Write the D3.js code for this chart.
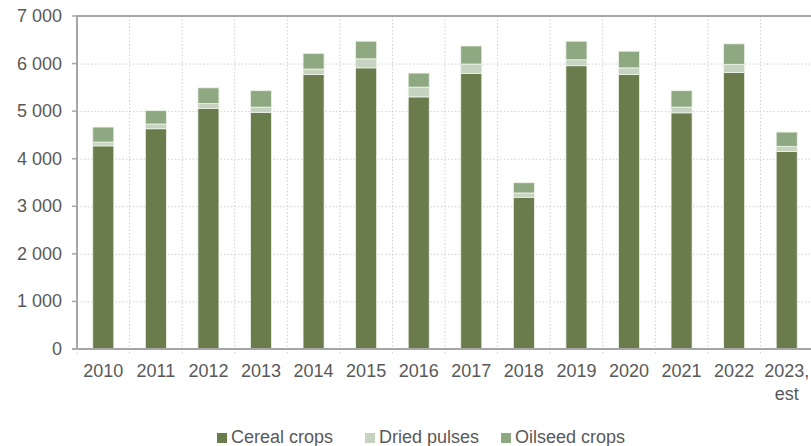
<!DOCTYPE html>
<html>
<head>
<meta charset="utf-8">
<script src="https://cdn.jsdelivr.net/npm/d3@7"></script>
<style>
  body { margin: 0; background: #fff; }
  text { font-family: "Liberation Sans", Arial, sans-serif; fill: #595959; }
</style>
</head>
<body>
<div id="chart"></div>
<script>
var years = ['2010', '2011', '2012', '2013', '2014', '2015', '2016', '2017', '2018', '2019', '2020', '2021', '2022', '2023, est']
var cereal = [4270, 4630, 5060, 4975, 5770, 5910, 5300, 5790, 3190, 5955, 5770, 4965, 5810, 4150]
var pulses = [80, 100, 100, 110, 115, 190, 205, 200, 90, 125, 140, 120, 175, 110]
var oilseed = [315, 280, 330, 345, 330, 370, 295, 380, 215, 390, 350, 345, 430, 300]
var seriesNames = ['Cereal crops', 'Dried pulses', 'Oilseed crops']
var yTicks = [0, 1000, 2000, 3000, 4000, 5000, 6000, 7000]

var colors = ['#6a7b4c', '#c6d3c0', '#8ea882']

var width = 811
var height = 446
var margin = { top: 16, left: 77, right: -2, bottom: 97 }

var svg = d3
  .select('#chart')
  .append('svg')
  .attr('width', width)
  .attr('height', height)

var x = d3
  .scaleBand()
  .domain(years)
  .range([margin.left, width - margin.right])
  .paddingInner(0.6)
  .paddingOuter(0.3)

var y = d3
  .scaleLinear()
  .domain([0, 7000])
  .range([height - margin.bottom, margin.top])

// stack the three series per year
var rows = years.map(function(yr, i) {
  return { year: yr, cereal: cereal[i], pulses: pulses[i], oilseed: oilseed[i] }
})
var stacked = d3.stack().keys(['cereal', 'pulses', 'oilseed'])(rows)

var step = x.step()
var boundaries = years.map(function(d, i) { return margin.left + step * (i + 1) })

// dotted grid lines
svg.append('g')
  .selectAll('line')
  .data(yTicks.slice(1, -1))
  .enter()
  .append('line')
  .attr('x1', margin.left)
  .attr('x2', width)
  .attr('y1', d => y(d) + 0.5)
  .attr('y2', d => y(d) + 0.5)
  .attr('stroke', '#cfcfcf')
  .attr('stroke-width', 1)
  .attr('stroke-dasharray', '1.5,2')

svg.append('g')
  .selectAll('line')
  .data(boundaries)
  .enter()
  .append('line')
  .attr('x1', d => d)
  .attr('x2', d => d)
  .attr('y1', y(7000))
  .attr('y2', y(0) + 5)
  .attr('stroke', '#cfcfcf')
  .attr('stroke-width', 1)
  .attr('stroke-dasharray', '1.5,2')

// bars
svg.append('g')
  .selectAll('g')
  .data(stacked)
  .enter()
  .append('g')
  .attr('fill', (d, i) => colors[i])
  .selectAll('rect')
  .data(d => d)
  .enter()
  .append('rect')
  .attr('x', d => x(d.data.year))
  .attr('width', x.bandwidth())
  .attr('y', d => y(d[1]))
  .attr('height', d => y(d[0]) - y(d[1]))
  .attr('stroke', '#eef3ea')
  .attr('stroke-width', 0.8)

// frame: top line, left axis, bottom axis
svg.append('line')
  .attr('x1', margin.left).attr('x2', width)
  .attr('y1', y(7000)).attr('y2', y(7000))
  .attr('stroke', '#a6a6a6').attr('stroke-width', 2)

svg.append('line')
  .attr('x1', margin.left).attr('x2', margin.left)
  .attr('y1', y(7000) - 1).attr('y2', y(0) + 1)
  .attr('stroke', '#a6a6a6').attr('stroke-width', 2)

svg.append('line')
  .attr('x1', margin.left - 5).attr('x2', width)
  .attr('y1', y(0)).attr('y2', y(0))
  .attr('stroke', '#a6a6a6').attr('stroke-width', 2)

// y ticks and labels
var yAxis = svg.append('g')
yAxis.selectAll('line')
  .data(yTicks)
  .enter()
  .append('line')
  .attr('x1', margin.left - 5)
  .attr('x2', margin.left)
  .attr('y1', d => y(d))
  .attr('y2', d => y(d))
  .attr('stroke', '#a6a6a6')
  .attr('stroke-width', 1.5)

yAxis.selectAll('text')
  .data(yTicks)
  .enter()
  .append('text')
  .attr('x', margin.left - 15)
  .attr('y', d => y(d) + 6)
  .attr('text-anchor', 'end')
  .attr('font-size', 18)
  .text(d => d3.format(',')(d).replace(/,/g, ' '))

// x tick at the start
svg.append('line')
  .attr('x1', margin.left).attr('x2', margin.left)
  .attr('y1', y(0)).attr('y2', y(0) + 5)
  .attr('stroke', '#cfcfcf').attr('stroke-dasharray', '1.5,2')

// x labels (wrap "2023, est")
svg.append('g')
  .selectAll('text')
  .data(years)
  .enter()
  .append('text')
  .attr('text-anchor', 'middle')
  .attr('font-size', 18)
  .each(function(d) {
    var parts = d.split(' ')
    var t = d3.select(this)
    parts.forEach(function(p, i) {
      t.append('tspan')
        .attr('x', x(d) + x.bandwidth() / 2)
        .attr('y', 377 + i * 22.5)
        .text(p)
    })
  })

// legend
var legendX = [217, 365, 501]
var legend = svg.append('g')
  .selectAll('g')
  .data(seriesNames)
  .enter()
  .append('g')
  .attr('transform', (d, i) => 'translate(' + legendX[i] + ',0)')

legend.append('rect')
  .attr('x', 0)
  .attr('y', 433)
  .attr('width', 10)
  .attr('height', 10)
  .attr('fill', (d, i) => colors[i])

legend.append('text')
  .attr('x', 14)
  .attr('y', 443)
  .attr('font-size', 18)
  .text(d => d)
</script>
</body>
</html>
